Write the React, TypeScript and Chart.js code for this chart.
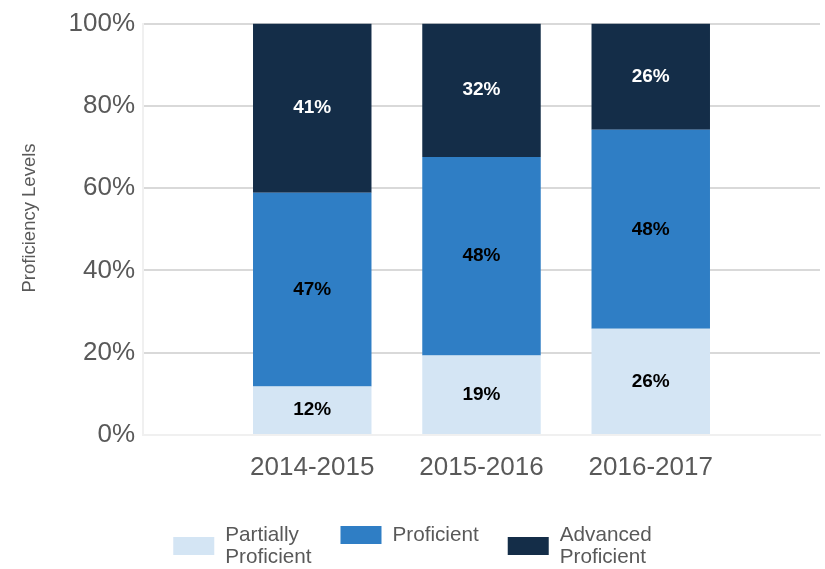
import React, { useEffect, useRef } from 'react';
import { Chart, registerables } from 'chart.js';

Chart.register(...registerables);

// ---- data ----
const categories = ['2014-2015', '2015-2016', '2016-2017'];
const partiallyProficient = [11.8, 19.3, 25.8];
const proficient = [47.1, 48.3, 48.4];
const advancedProficient = [41.1, 32.4, 25.8];
const seriesNames = ['Partially\nProficient', 'Proficient', 'Advanced\nProficient'];
const seriesColors = ['#d4e5f4', '#2f7ec5', '#142d48'];
const labelColors = ['#000000', '#000000', '#ffffff'];
const yAxisTitle = 'Proficiency Levels';

const FONT = '"Liberation Sans", Arial, Helvetica, sans-serif';
const TEXT_GREY = '#595959';

const barLabels = {
  id: 'barLabels',
  afterDatasetsDraw(chart: any) {
    const ctx = chart.ctx;
    ctx.save();
    ctx.font = `bold 19px ${FONT}`;
    ctx.textAlign = 'center';
    ctx.textBaseline = 'middle';
    chart.data.datasets.forEach((ds: any, di: number) => {
      const meta = chart.getDatasetMeta(di);
      meta.data.forEach((el: any, i: number) => {
        const v = ds.data[i];
        if (v == null) return;
        const { x, y, base } = el.getProps(['x', 'y', 'base'], true);
        ctx.fillStyle = ds.labelColor;
        ctx.fillText(Math.round(v) + '%', x, (y + base) / 2);
      });
    });
    ctx.restore();
  },
};

const yTitle = {
  id: 'yTitle',
  afterDraw(chart: any) {
    const ctx = chart.ctx;
    ctx.save();
    ctx.font = `18.5px ${FONT}`;
    ctx.fillStyle = TEXT_GREY;
    ctx.textAlign = 'center';
    ctx.textBaseline = 'middle';
    ctx.translate(30, 218);
    ctx.rotate(-Math.PI / 2);
    ctx.fillText(yAxisTitle, 0, 0);
    ctx.restore();
  },
};

const bottomLegend = {
  id: 'bottomLegend',
  afterDraw(chart: any) {
    const ctx = chart.ctx;
    const fontSize = 20.7;
    const lineH = 22;
    const boxW = 41;
    const boxH = 18;
    const gapBoxText = 11;
    const gapItems = 29;
    const firstLineY = 535;
    ctx.save();
    ctx.font = `${fontSize}px ${FONT}`;
    const items = chart.data.datasets.map((ds: any) => {
      const lines = String(ds.label).split('\n');
      const tw = Math.max(...lines.map((l: string) => ctx.measureText(l).width));
      return { lines, tw, color: ds.backgroundColor, w: boxW + gapBoxText + tw };
    });
    const total = items.reduce((a: number, it: any) => a + it.w, 0) + gapItems * (items.length - 1);
    let x = (chart.width - total) / 2;
    items.forEach((it: any) => {
      const centerY = firstLineY + ((it.lines.length - 1) * lineH) / 2;
      ctx.fillStyle = it.color;
      ctx.fillRect(x, centerY - boxH / 2, boxW, boxH);
      ctx.fillStyle = TEXT_GREY;
      ctx.textAlign = 'left';
      ctx.textBaseline = 'middle';
      it.lines.forEach((l: string, li: number) => {
        ctx.fillText(l, x + boxW + gapBoxText, firstLineY + li * lineH);
      });
      x += it.w + gapItems;
    });
    ctx.restore();
  },
};

export default function App() {
  const canvasRef = useRef<HTMLCanvasElement | null>(null);

  useEffect(() => {
    document.body.style.margin = '0';
    if (!canvasRef.current) return;
    const pad = (arr: number[]) => [null, ...arr, null];
    const seriesValues = [partiallyProficient, proficient, advancedProficient];
    const chart = new Chart(canvasRef.current, {
      type: 'bar',
      data: {
        labels: ['', ...categories, ''],
        datasets: seriesValues.map((vals, i) => ({
          label: seriesNames[i],
          data: pad(vals),
          backgroundColor: seriesColors[i],
          borderWidth: 0,
          barPercentage: 0.7,
          categoryPercentage: 1,
          labelColor: labelColors[i],
        })) as any,
      },
      options: {
        animation: false,
        responsive: true,
        maintainAspectRatio: false,
        layout: { padding: { top: 21, right: 5, bottom: 74, left: 0 } },
        plugins: {
          legend: { display: false },
          tooltip: { enabled: false },
        },
        scales: {
          x: {
            stacked: true,
            offset: false,
            grid: { display: false },
            border: { display: true, color: '#f0f0f0', width: 2 },
            ticks: {
              color: TEXT_GREY,
              font: { size: 26, family: FONT },
              padding: 9,
              autoSkip: false,
              maxRotation: 0,
              minRotation: 0,
            },
            afterFit: (s: any) => {
              s.height = 60;
              s.paddingLeft = 0;
              s.paddingRight = 0;
            },
          },
          y: {
            stacked: true,
            min: 0,
            max: 100,
            grid: {
              drawTicks: false,
              color: (c: any) => (c.tick && c.tick.value === 0 ? 'rgba(0,0,0,0)' : '#d9d9d9'),
              lineWidth: 2,
            },
            border: { display: true, color: '#f0f0f0', width: 2 },
            ticks: {
              stepSize: 20,
              color: TEXT_GREY,
              font: { size: 26, family: FONT },
              padding: 8,
              callback: (v: any) => v + '%',
            },
            title: { display: false, text: yAxisTitle },
            afterFit: (s: any) => {
              s.width = 143;
            },
          },
        },
      },
      plugins: [barLabels, yTitle, bottomLegend],
    });
    return () => chart.destroy();
  }, []);

  return (
    <div style={{ width: 825, height: 569, position: 'relative' }}>
      <canvas ref={canvasRef} />
    </div>
  );
}
